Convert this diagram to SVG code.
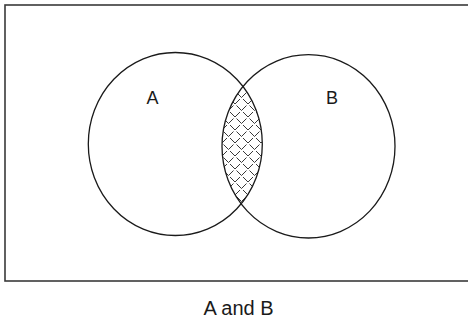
<svg xmlns="http://www.w3.org/2000/svg" width="468" height="321" viewBox="0 0 468 321">
  <style>
    .frame { fill: none; stroke: #3a3a3a; stroke-width: 1.6; }
    .set { fill: none; stroke: #1a1a1a; stroke-width: 1.3; }
    .label { font-family: "Liberation Sans", Arial, sans-serif; fill: #1a1a1a; text-anchor: middle; }
    .hatch { fill: none; stroke: #222; stroke-width: 0.9; }
  </style>
  <defs>
    <pattern id="scales" patternUnits="userSpaceOnUse" width="13" height="13" x="1" y="0">
      <path class="hatch" d="M1.5,1.5 L6.5,6.5 L11.5,1.5 M-5,8 L0,13 L5,8 M8,8 L13,13 L18,8"/>
    </pattern>
    <clipPath id="clipA">
      <ellipse cx="175.3" cy="144" rx="87" ry="91.5"/>
    </clipPath>
  </defs>
  <rect class="frame" x="5" y="5" width="470" height="276"/>
  <g id="intersection">
    <ellipse cx="308.5" cy="146.3" rx="86.5" ry="91.7" fill="url(#scales)" clip-path="url(#clipA)"/>
  </g>
  <g id="setA">
    <ellipse class="set" cx="175.3" cy="144" rx="87" ry="91.5"/>
    <text class="label" x="152.5" y="104" font-size="18">A</text>
  </g>
  <g id="setB">
    <ellipse class="set" cx="308.5" cy="146.3" rx="86.5" ry="91.7"/>
    <text class="label" x="332" y="104" font-size="18">B</text>
  </g>
  <g id="caption">
    <text class="label" x="238.5" y="315" font-size="20">A and B</text>
  </g>
  <g id="connectors"/>
</svg>
